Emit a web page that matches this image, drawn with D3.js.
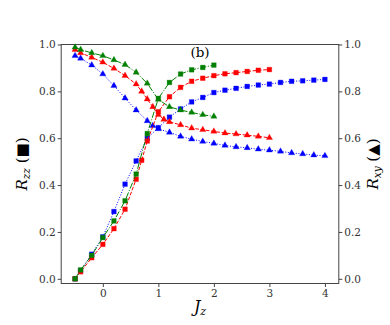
<!DOCTYPE html>
<html>
<head>
<meta charset="utf-8">
<script src="https://cdn.jsdelivr.net/npm/d3@7"></script>
<style>
  body { margin: 0; background: #fff; }
  text { font-family: "DejaVu Serif", serif; }
</style>
</head>
<body>
<div class="chart"></div>
<script>
// R_zz (squares, left axis) and R_xy (triangles, right axis) vs J_z
var jzBlueSq = [-0.5, -0.4, -0.2, 0, 0.2, 0.4, 0.6, 0.8, 1.0, 1.2, 1.4, 1.6, 1.8, 2.0, 2.2, 2.4, 2.6, 2.8, 3.0, 3.2, 3.4, 3.6, 3.8, 4.0];
var rzzBlue  = [0.0, 0.035, 0.105, 0.179, 0.287, 0.404, 0.503, 0.60, 0.645, 0.69, 0.725, 0.755, 0.774, 0.795, 0.805, 0.813, 0.821, 0.827, 0.831, 0.838, 0.843, 0.845, 0.848, 0.851];
var jzBlueTri = [-0.5, -0.4, -0.2, 0, 0.2, 0.4, 0.6, 0.8, 0.9, 1.0, 1.2, 1.4, 1.6, 1.8, 2.0, 2.2, 2.4, 2.6, 2.8, 3.0, 3.2, 3.4, 3.6, 3.8, 4.0];
var rxyBlue  = [0.952, 0.941, 0.912, 0.874, 0.824, 0.771, 0.72, 0.674, 0.653, 0.64, 0.625, 0.608, 0.596, 0.586, 0.578, 0.569, 0.563, 0.559, 0.553, 0.549, 0.544, 0.537, 0.533, 0.528, 0.525];

var jzRedSq = [-0.5, -0.4, -0.2, 0, 0.2, 0.4, 0.6, 0.7, 0.8, 1.0, 1.2, 1.4, 1.6, 1.8, 2.0, 2.2, 2.4, 2.6, 2.8, 3.0];
var rzzRed  = [0.0, 0.03, 0.09, 0.147, 0.214, 0.297, 0.425, 0.506, 0.588, 0.713, 0.777, 0.817, 0.843, 0.856, 0.867, 0.875, 0.88, 0.885, 0.89, 0.893];
var jzRedTri = [-0.5, -0.4, -0.2, 0, 0.2, 0.4, 0.6, 0.7, 0.8, 0.9, 1.0, 1.1, 1.2, 1.4, 1.6, 1.8, 2.0, 2.2, 2.4, 2.6, 2.8, 3.0];
var rxyRed  = [0.978, 0.964, 0.945, 0.924, 0.898, 0.867, 0.831, 0.80, 0.767, 0.734, 0.70, 0.68, 0.67, 0.657, 0.643, 0.636, 0.629, 0.622, 0.618, 0.613, 0.608, 0.602];

var jzGreen  = [-0.5, -0.4, -0.2, 0, 0.2, 0.4, 0.6, 0.8, 1.0, 1.2, 1.4, 1.6, 1.8, 2.0];
var rzzGreen = [0.0, 0.038, 0.1, 0.176, 0.247, 0.333, 0.447, 0.62, 0.77, 0.838, 0.874, 0.892, 0.902, 0.912];
var rxyGreen = [0.988, 0.978, 0.964, 0.952, 0.934, 0.914, 0.881, 0.834, 0.765, 0.734, 0.72, 0.71, 0.70, 0.693];

var xTicks = [0, 1, 2, 3, 4];
var yTicks = [0.0, 0.2, 0.4, 0.6, 0.8, 1.0];

var width = 390, height = 325;
var margin = { left: 61.2, right: 338.8, top: 44.5, bottom: 283.5 };

var svg = d3.select(".chart").append("svg")
    .attr("width", width)
    .attr("height", height);

var x = d3.scaleLinear().domain([-0.75, 4.25]).range([margin.left, margin.right]);
var y = d3.scaleLinear().domain([-0.02, 1.0]).range([margin.bottom, margin.top]);

var axisColor = "#444";

// axes
function styleAxis(g) {
    g.select(".domain").remove();
    g.selectAll(".tick line").attr("stroke", axisColor);
    g.selectAll(".tick text").attr("fill", "#333").style("font-size", "10.5px");
}

svg.append("g")
    .attr("transform", "translate(0," + margin.bottom + ")")
    .call(d3.axisBottom(x).tickValues(xTicks).tickFormat(d3.format("d")).tickSize(3.5).tickPadding(3))
    .call(styleAxis);

svg.append("g")
    .attr("transform", "translate(" + margin.left + ",0)")
    .call(d3.axisLeft(y).tickValues(yTicks).tickFormat(d3.format(".1f")).tickSize(3.5).tickPadding(2))
    .call(styleAxis);

svg.append("g")
    .attr("transform", "translate(" + margin.right + ",0)")
    .call(d3.axisRight(y).tickValues(yTicks).tickFormat(d3.format(".1f")).tickSize(3.5).tickPadding(2))
    .call(styleAxis);

svg.append("rect")
    .attr("x", margin.left).attr("y", margin.top)
    .attr("width", margin.right - margin.left).attr("height", margin.bottom - margin.top)
    .attr("fill", "none")
    .attr("stroke", axisColor)
    .attr("stroke-width", 1);

// series
var line = d3.line()
    .x(function (d) { return x(d[0]); })
    .y(function (d) { return y(d[1]); });

var squareSym = d3.symbol().type(d3.symbolSquare).size(22);
var triSym = d3.symbol().type(d3.symbolTriangle).size(17);

function drawSeries(xs, ys, color, dash, sym) {
    var pts = xs.map(function (v, i) { return [v, ys[i]]; });
    svg.append("path")
        .datum(pts)
        .attr("d", line)
        .attr("fill", "none")
        .attr("stroke", color)
        .attr("stroke-width", 1)
        .attr("stroke-dasharray", dash);
    svg.append("g").selectAll("path")
        .data(pts)
        .enter()
        .append("path")
        .attr("d", sym)
        .attr("transform", function (d) { return "translate(" + x(d[0]) + "," + y(d[1]) + ")"; })
        .attr("fill", color)
        .attr("stroke", color)
        .attr("stroke-opacity", 0.3)
        .attr("stroke-width", 1);
}

var blue = "#0000ff", red = "#ff0000", green = "#008000";
drawSeries(jzBlueSq, rzzBlue, blue, "1,1.65", squareSym);
drawSeries(jzBlueTri, rxyBlue, blue, "1,1.65", triSym);
drawSeries(jzRedSq, rzzRed, red, "3.7,1.6", squareSym);
drawSeries(jzRedTri, rxyRed, red, "3.7,1.6", triSym);
drawSeries(jzGreen, rzzGreen, green, "6.4,1.6,1,1.6", squareSym);
drawSeries(jzGreen, rxyGreen, green, "6.4,1.6,1,1.6", triSym);

// labels
svg.append("text")
    .attr("x", 200).attr("y", 57)
    .attr("text-anchor", "middle")
    .style("font-size", "13.5px")
    .style("font-weight", "normal")
    .text("(b)");

var xl = svg.append("text")
    .attr("x", (margin.left + margin.right) / 2).attr("y", 312)
    .attr("text-anchor", "middle")
    .style("font-size", "16px");
xl.append("tspan").style("font-style", "italic").text("J");
xl.append("tspan").style("font-style", "italic").style("font-size", "11px").attr("dy", 3).text("z");

var ylL = svg.append("text")
    .attr("transform", "translate(27," + ((margin.top + margin.bottom) / 2) + ") rotate(-90)")
    .attr("text-anchor", "middle")
    .style("font-size", "15px");
ylL.append("tspan").style("font-style", "italic").text("R");
ylL.append("tspan").style("font-style", "italic").style("font-size", "10.5px").attr("dy", 3).text("zz");
ylL.append("tspan").attr("dy", -3).text(" (\u25A0)");

var ylR = svg.append("text")
    .attr("transform", "translate(378," + ((margin.top + margin.bottom) / 2) + ") rotate(-90)")
    .attr("text-anchor", "middle")
    .style("font-size", "15px");
ylR.append("tspan").style("font-style", "italic").text("R");
ylR.append("tspan").style("font-style", "italic").style("font-size", "10.5px").attr("dy", 3).text("xy");
ylR.append("tspan").attr("dy", -3).text(" (\u25B2)");
</script>
</body>
</html>
